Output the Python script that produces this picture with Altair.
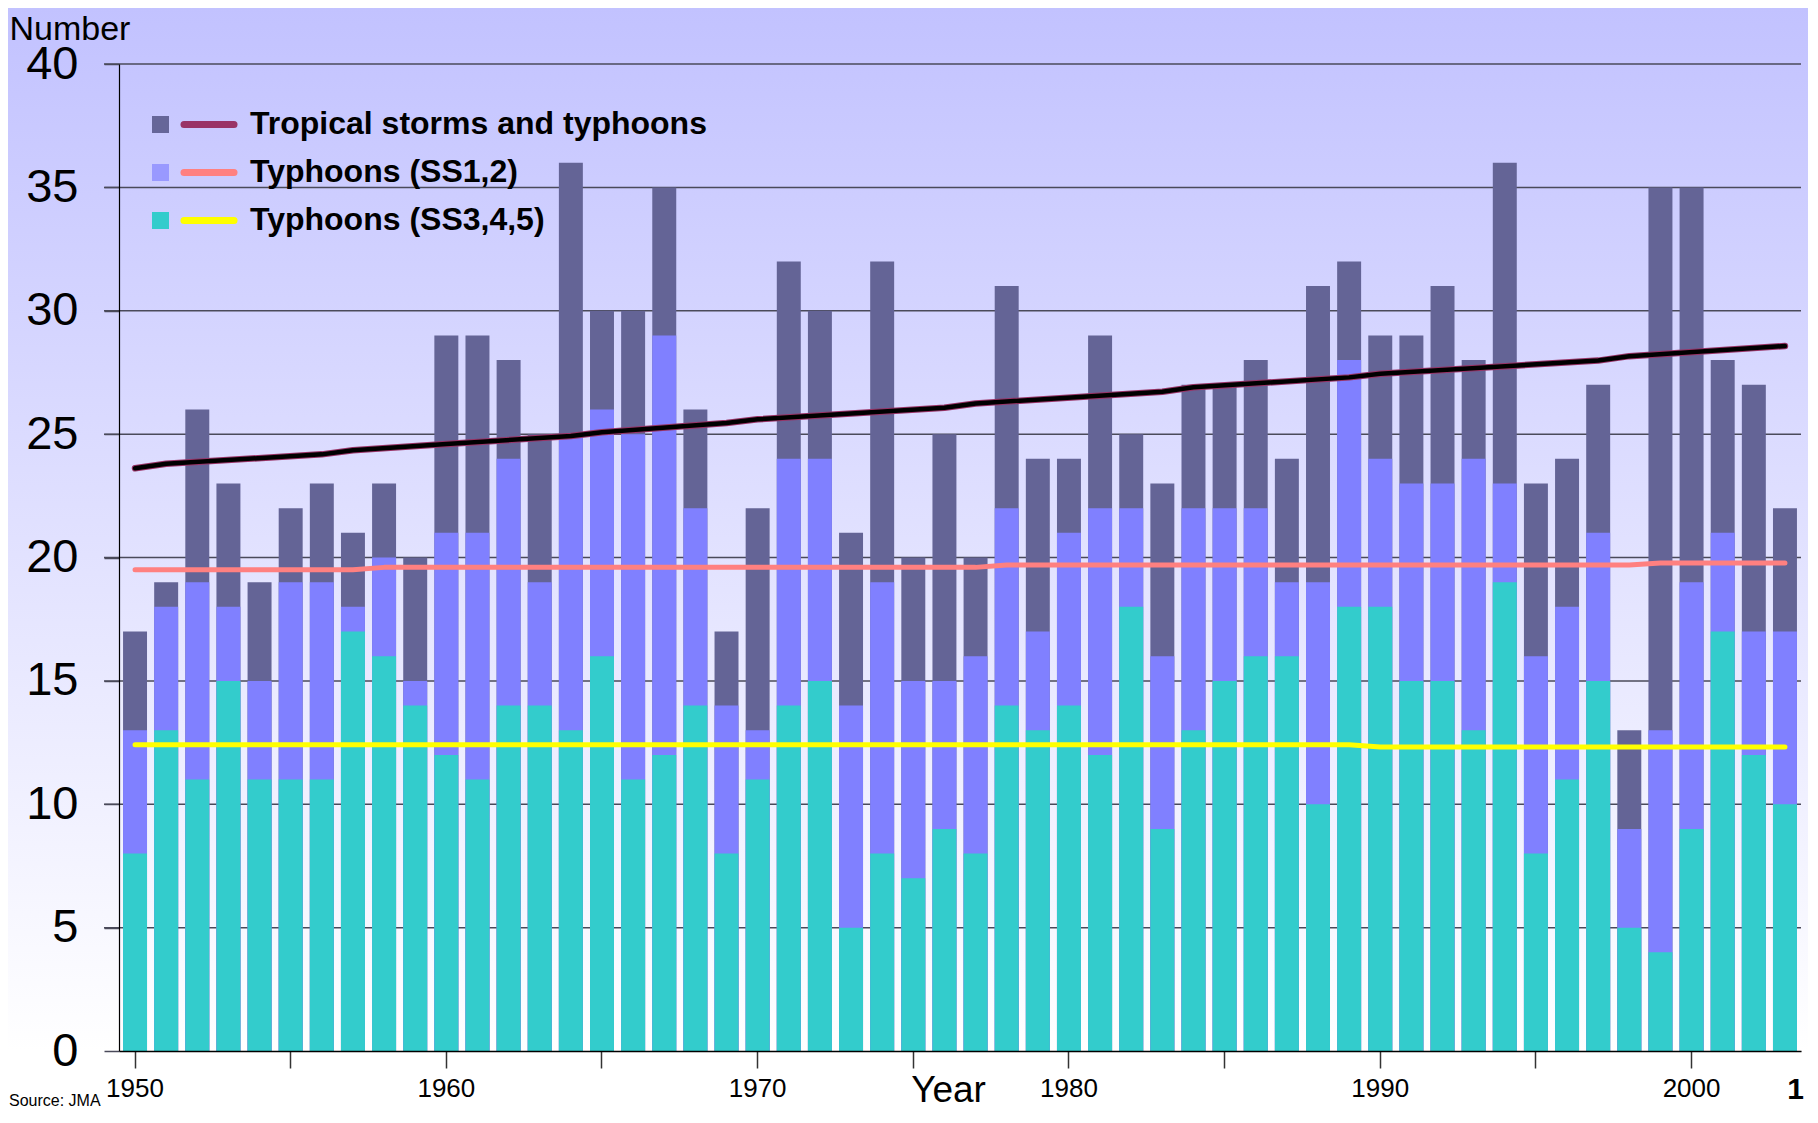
import altair as alt
import pandas as pd

# ---------------- data ----------------
years = list(range(1950, 2004))

# top of the dark bars: tropical storms and typhoons (all)
total_storms = [17, 19, 26, 23, 19, 22, 23, 21, 23, 20,
                29, 29, 28, 25, 36, 30, 30, 35, 26, 17,
                22, 32, 30, 21, 32, 20, 25, 20, 31, 24,
                24, 29, 25, 23, 27, 27, 28, 24, 31, 32,
                29, 29, 31, 28, 36, 23, 24, 27, 13, 35,
                35, 28, 27, 22]

# top of the light purple bars: typhoons (SS1,2 stacked on SS3,4,5)
typhoons_top = [13, 18, 19, 18, 15, 19, 19, 18, 20, 15,
                21, 21, 24, 19, 25, 26, 25, 29, 22, 14,
                13, 24, 24, 14, 19, 15, 15, 16, 22, 17,
                21, 22, 22, 16, 22, 22, 22, 19, 19, 28,
                24, 23, 23, 24, 23, 16, 18, 21, 9, 13,
                19, 21, 17, 17]

# cyan bars: typhoons (SS3,4,5)
typhoons_ss345 = [8, 13, 11, 15, 11, 11, 11, 17, 16, 14,
                  12, 11, 14, 14, 13, 16, 11, 12, 14, 8,
                  11, 14, 15, 5, 8, 7, 9, 8, 14, 13,
                  14, 12, 18, 9, 13, 15, 16, 16, 10, 18,
                  18, 15, 15, 13, 19, 8, 11, 15, 5, 4,
                  9, 17, 12, 10]

# trend lines
trend_total_years = [1950, 1951, 1956, 1957, 1960, 1964, 1965, 1969, 1970,
                     1976, 1977, 1983, 1984, 1989, 1990, 1997, 1998, 2003]
trend_total_vals = [23.62, 23.8, 24.18, 24.35, 24.6, 24.92, 25.08, 25.45, 25.6,
                    26.07, 26.24, 26.72, 26.9, 27.3, 27.45, 27.98, 28.16, 28.57]
trend_ss12_years = [1950, 1957, 1958, 1977, 1978, 1998, 1999, 2003]
trend_ss12_vals = [19.5, 19.5, 19.6, 19.6, 19.7, 19.7, 19.78, 19.78]
trend_ss345_years = [1950, 1989, 1990, 2003]
trend_ss345_vals = [12.41, 12.41, 12.32, 12.32]

y_ticks = [0, 5, 10, 15, 20, 25, 30, 35, 40]
x_ticks = [1950, 1955, 1960, 1965, 1970, 1975, 1980, 1985, 1990, 1995, 2000]

legend_labels = ["Tropical storms and typhoons", "Typhoons (SS1,2)", "Typhoons (SS3,4,5)"]
legend_square_colors = ["#666699", "#9999FF", "#33CCCC"]
legend_line_colors = ["#993366", "#FF8080", "#FFFF00"]

source_text = ["Source: JMA"]
page_number = ["1"]

# ---------------- layout / style ----------------
W, H = 1682, 987
PAD = {"left": 111, "top": 56, "right": 7, "bottom": 59}
FONT = "Liberation Sans"
GRID_COLOR = "#4a4a5a"

xscale = alt.Scale(domain=years, paddingInner=0.23, paddingOuter=0.13)
yscale = alt.Scale(domain=[0, 40], nice=False, zero=True)

xaxis = alt.Axis(
    values=x_ticks,
    labelExpr="datum.value % 10 == 0 ? datum.label : ''",
    labelAngle=0, labelFont=FONT, labelFontSize=26, labelColor="black", labelPadding=7,
    tickSize=17, tickColor="#333333", tickWidth=1.5,
    domainColor="black", domainWidth=1.5, grid=False,
    title="Year", titleFont=FONT, titleFontSize=37, titleFontWeight="normal",
    titleColor="black", titleX=829, titleY=50, titleAlign="center",
    titleBaseline="alphabetic", zindex=1,
)
yaxis = alt.Axis(
    values=y_ticks, grid=False,
    labelFont=FONT, labelFontSize=47, labelColor="black", labelPadding=26,
    tickSize=15, tickColor=GRID_COLOR, tickWidth=1.5,
    domainColor="black", domainWidth=1.2,
    title="Number", titleFont=FONT, titleFontSize=34, titleFontWeight="normal",
    titleColor="black", titleAngle=0, titleX=-110, titleY=-25,
    titleAlign="left", titleBaseline="alphabetic", zindex=1,
)

X = alt.X("year:O", scale=xscale, axis=xaxis)

# background gradient
grad = alt.LinearGradient(
    gradient="linear",
    stops=[alt.GradientStop(color="#C2C2FF", offset=0),
           alt.GradientStop(color="#FFFFFF", offset=1)],
    x1=0, x2=0, y1=0, y2=1,
)
bg = alt.Chart(pd.DataFrame({"a": [0]})).mark_rect(color=grad).encode(
    x=alt.value(-PAD["left"]), x2=alt.value(W + PAD["right"]),
    y=alt.value(-PAD["top"]), y2=alt.value(H),
)

grid_df = pd.DataFrame({"v": y_ticks[1:]})
grid = alt.Chart(grid_df).mark_rule(color=GRID_COLOR, strokeWidth=1.5).encode(
    x=alt.value(-15), x2=alt.value(W),
    y=alt.Y("v:Q", scale=yscale, axis=yaxis),
)

bar_df = pd.DataFrame({"year": years, "total": total_storms,
                       "typh": typhoons_top, "ss345": typhoons_ss345})


def bars(field, color):
    return alt.Chart(bar_df).mark_bar(color=color).encode(
        x=X, y=alt.Y(f"{field}:Q", scale=yscale, axis=yaxis)
    )


def trend(yrs, vals, color, width):
    df = pd.DataFrame({"year": yrs, "v": vals})
    return alt.Chart(df).mark_line(
        color=color, strokeWidth=width, strokeCap="round", strokeJoin="round"
    ).encode(x=X, y=alt.Y("v:Q", scale=yscale, axis=yaxis))


layers = [
    bg, grid,
    bars("total", "#646496"),
    bars("typh", "#8080FF"),
    bars("ss345", "#33CCCC"),
    trend(trend_ss12_years, trend_ss12_vals, "#FF8080", 5),
    trend(trend_ss345_years, trend_ss345_vals, "#FFFF00", 5),
    trend(trend_total_years, trend_total_vals, "#993366", 6.5),
    trend(trend_total_years, trend_total_vals, "#000000", 4.5),
]

row_centers = [60.5, 108.5, 156.5]
for i, label in enumerate(legend_labels):
    cy = row_centers[i]
    ldf = pd.DataFrame({"label": [label]})
    layers.append(alt.Chart(ldf).mark_rect(color=legend_square_colors[i]).encode(
        x=alt.value(33), x2=alt.value(50), y=alt.value(cy - 8.5), y2=alt.value(cy + 8.5)))
    layers.append(alt.Chart(ldf).mark_rule(color=legend_line_colors[i], strokeWidth=7,
                                           strokeCap="round").encode(
        x=alt.value(65), x2=alt.value(115), y=alt.value(cy)))
    layers.append(alt.Chart(ldf).mark_text(align="left", baseline="alphabetic", font=FONT,
                                           fontSize=32, fontWeight="bold", color="black").encode(
        x=alt.value(131), y=alt.value(cy + 9.5), text="label:N"))

# footer texts of the slide
layers.append(alt.Chart(pd.DataFrame({"t": source_text})).mark_text(
    align="left", baseline="alphabetic", font=FONT, fontSize=16, color="black").encode(
    x=alt.value(-PAD["left"] + 1), y=alt.value(H + 55), text="t:N"))
layers.append(alt.Chart(pd.DataFrame({"t": page_number})).mark_text(
    align="right", baseline="alphabetic", font=FONT, fontSize=30, fontWeight="bold",
    color="black").encode(
    x=alt.value(W + PAD["right"] - 4), y=alt.value(H + 48), text="t:N"))

chart = alt.layer(*layers).properties(
    width=W, height=H,
    autosize=alt.AutoSizeParams(type="none"),
    padding=PAD,
).configure_view(strokeWidth=0).configure(background="white")

chart.save("out.html", embed_options={"renderer": "svg", "actions": False})
